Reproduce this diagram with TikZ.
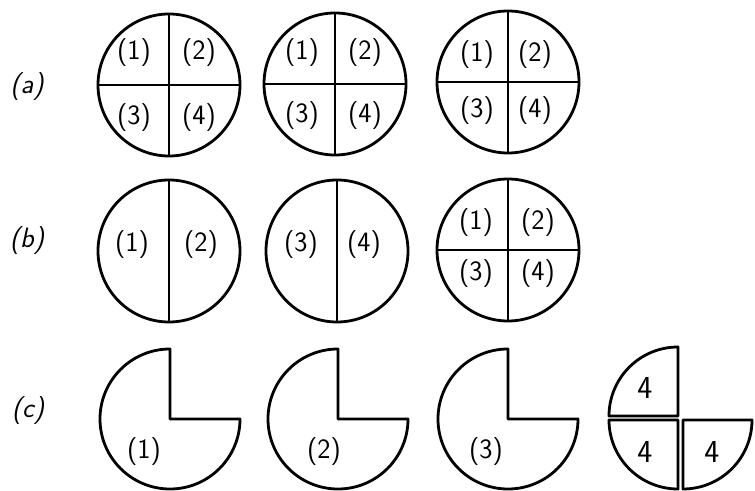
\documentclass[tikz,border=0pt]{standalone}
\usepackage{tikz}
\usetikzlibrary{calc}
\tikzset{
  rim/.style={line width=2.8pt, line join=round},
  cut/.style={line width=1.8pt},
  numlab/.style={font=\sffamily\fontsize{28}{28}\selectfont, inner sep=0pt},
  piecelab/.style={font=\sffamily\fontsize{32}{32}\selectfont, inner sep=0pt},
  rowlab/.style={font=\sffamily\itshape\fontsize{28}{28}\selectfont, inner sep=0pt}
}

\begin{document}
\begin{tikzpicture}[x=1pt,y=1pt]
  \useasboundingbox (0,0) rectangle (755,490);
  \pgfmathsetmacro\R{71}

  %%row labels
  \node[rowlab] (la) at (27,403) {(a)};
  \node[rowlab] (lb) at (27,249) {(b)};
  \node[rowlab] (lc) at (28,79) {(c)};

  %%row (a): three discs, each cut in four
  \foreach \nm/\cx/\cy/\dl/\dr/\du/\dd in {a1/169/405/-35/30/32/-33,
      a2/335/406/-33/30/31/-32, a3/508/408/-31/27/27/-29} {
    \coordinate (\nm) at (\cx,\cy);
    \draw[rim] (\nm) circle (\R);
    \draw[cut] ($(\nm)+(0,\R)$) -- ($(\nm)+(0,-\R)$);
    \draw[cut] ($(\nm)+(-\R,0)$) -- ($(\nm)+(\R,0)$);
    \node[numlab] (\nm-1) at ($(\nm)+(\dl,\du)$) {(1)};
    \node[numlab] (\nm-2) at ($(\nm)+(\dr,\du)$) {(2)};
    \node[numlab] (\nm-3) at ($(\nm)+(\dl,\dd)$) {(3)};
    \node[numlab] (\nm-4) at ($(\nm)+(\dr,\dd)$) {(4)};
  }

  %%row (b): two halved discs, then one cut in four
  \foreach \nm/\cx/\dl/\dr/\tl/\tr in {b1/169/-37/32/1/2, b2/337/-36/27/3/4} {
    \coordinate (\nm) at (\cx,239);
    \draw[rim] (\nm) circle (\R);
    \draw[cut] ($(\nm)+(0,\R)$) -- ($(\nm)+(0,-\R)$);
    \node[numlab] (\nm-l) at ($(\nm)+(\dl,6)$) {(\tl)};
    \node[numlab] (\nm-r) at ($(\nm)+(\dr,6)$) {(\tr)};
  }
  \coordinate (b3) at (508,240);
  \draw[rim] (b3) circle (\R);
  \draw[cut] ($(b3)+(0,\R)$) -- ($(b3)+(0,-\R)$);
  \draw[cut] ($(b3)+(-\R,0)$) -- ($(b3)+(\R,0)$);
  \node[numlab] (b3-1) at ($(b3)+(-32,27)$) {(1)};
  \node[numlab] (b3-2) at ($(b3)+(30,27)$) {(2)};
  \node[numlab] (b3-3) at ($(b3)+(-32,-24)$) {(3)};
  \node[numlab] (b3-4) at ($(b3)+(30,-24)$) {(4)};

  %%row (c): discs with one quarter taken out
  \pgfmathsetmacro\r{70}
  \foreach \nm/\cx/\dl/\t in {c1/170/-26/1, c2/338/-14/2, c3/508/-22/3} {
    \coordinate (\nm) at (\cx,71);
    \draw[rim] (\nm) -- ++(0,\r) arc[start angle=90, end angle=360, radius=\r] -- cycle;
    \node[numlab] (\nm-n) at ($(\nm)+(\dl,-33)$) {(\t)};
  }

  %%the quarter pieces, set apart
  \pgfmathsetmacro\q{69}
  \coordinate (QA) at (678,74);
  \coordinate (QB) at (678,70);
  \coordinate (QC) at (683,70);
  \draw[rim] (QA) -- ++(0,\q) arc[start angle=90, end angle=180, radius=\q] -- cycle;
  \draw[rim] (QB) -- ++(-\q,0) arc[start angle=180, end angle=270, radius=\q] -- cycle;
  \draw[rim] (QC) -- ++(0,-\q) arc[start angle=270, end angle=360, radius=\q] -- cycle;
  \node[piecelab] (qa) at (645,102) {4};
  \node[piecelab] (qb) at (645,38) {4};
  \node[piecelab] (qc) at (712,38) {4};
\end{tikzpicture}
\end{document}
